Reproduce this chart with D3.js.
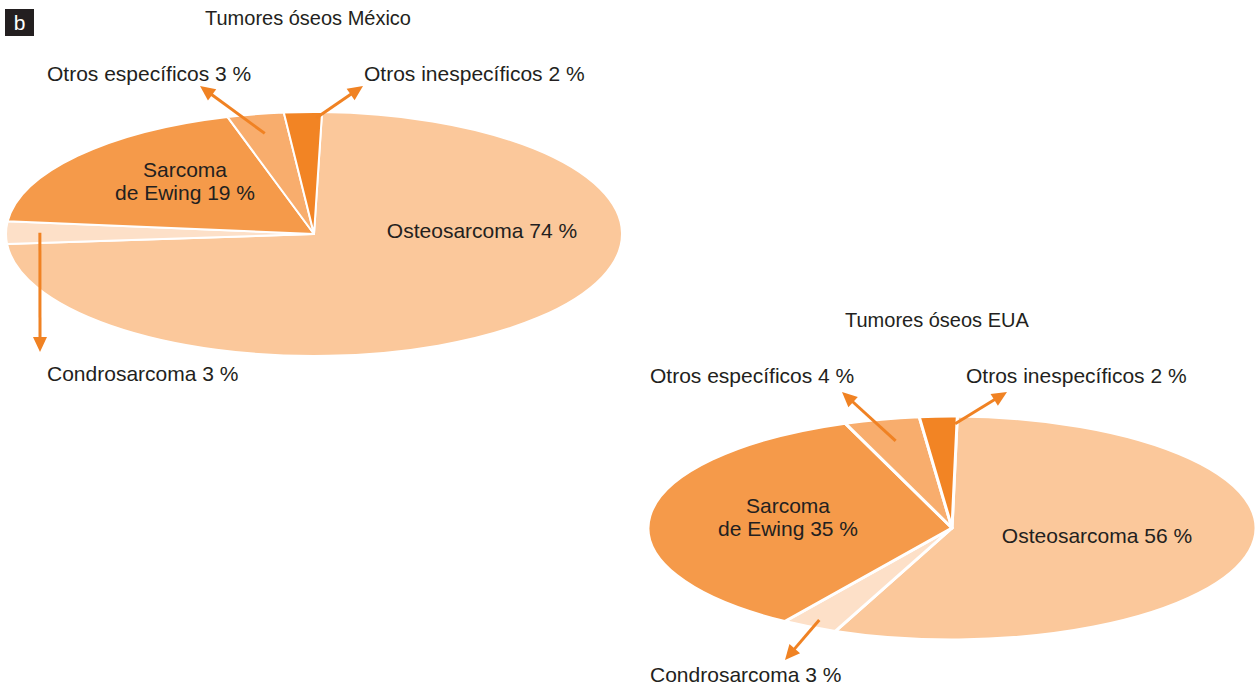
<!DOCTYPE html>
<meta charset="utf-8">
<head>
<script src="https://d3js.org/d3.v7.min.js"></script>
<style>
body { margin: 0; background: #fff; }
text { font-family: "Liberation Sans", Arial, sans-serif; fill: #231f20; }
</style>
</head>
<body>
<div id="my_dataviz"></div>
<script>
// categories, clockwise from the top
var categories = ["Osteosarcoma", "Condrosarcoma", "Sarcoma de Ewing", "Otros específicos", "Otros inespecíficos"];
var mexicoValues = [74, 3, 19, 3, 2];
var euaValues = [56, 3, 35, 4, 2];
var titles = ["Tumores óseos México", "Tumores óseos EUA"];

var sliceColors = ["#fbc89b", "#fde0c8", "#f59a4a", "#f8ad6d", "#f28424"];
var arrowColor = "#f08223";

var width = 1257, height = 690;

var svg = d3.select("#my_dataviz")
  .append("svg")
    .attr("width", width)
    .attr("height", height);

// panel letter
svg.append("rect").attr("x", 5).attr("y", 9).attr("width", 29).attr("height", 27).attr("fill", "#231f20");
svg.append("text").attr("x", 19.5).attr("y", 29.5).attr("text-anchor", "middle")
  .style("fill", "#fff").style("font-size", "21px").text("b");

// layout for each pie (positions only)
var charts = [
  {
    values: mexicoValues, title: titles[0], titleX: 205, titleY: 25,
    cx: 314, cy: 234, rx: 308, ry: 122, sep: 2, offset: 1.5,
    inside: [
      {i: 0, x: 482, y: 238, lines: ["Osteosarcoma"]},
      {i: 2, x: 185, y: 177, lines: ["Sarcoma", "de Ewing"]}
    ],
    outside: [
      {i: 1, x: 47, y: 381, frac: 0.5, r: 0.89, tip: [40, 352]},
      {i: 3, x: 47, y: 81, frac: 0.5, r: 0.84, tip: [200, 86]},
      {i: 4, x: 364, y: 81, frac: 0.85, r: 0.95, tip: [363, 86]}
    ]
  },
  {
    values: euaValues, title: titles[1], titleX: 845, titleY: 327,
    cx: 952, cy: 528, rx: 304, ry: 112, sep: 3, offset: 1,
    inside: [
      {i: 0, x: 1097, y: 543, lines: ["Osteosarcoma"]},
      {i: 2, x: 788, y: 513, lines: ["Sarcoma", "de Ewing"]}
    ],
    outside: [
      {i: 1, x: 650, y: 682, frac: 0.5, r: 0.93, tip: [785, 660]},
      {i: 3, x: 650, y: 383, frac: 0.5, r: 0.8, tip: [842, 392]},
      {i: 4, x: 966, y: 383, frac: 0.95, r: 0.93, tip: [1007, 392]}
    ]
  }
];

charts.forEach(function(c) {
  var off = c.offset * Math.PI / 180;
  var pie = d3.pie().sort(null).startAngle(off).endAngle(off + 2 * Math.PI);
  var arcs = pie(c.values);
  var arc = d3.arc().innerRadius(0).outerRadius(c.ry);
  var sx = c.rx / c.ry;

  // point on the ellipse for an angle and radius fraction
  function pt(a, r) {
    return [c.cx + r * c.rx * Math.sin(a), c.cy - r * c.ry * Math.cos(a)];
  }

  svg.append("text").attr("x", c.titleX).attr("y", c.titleY)
    .style("font-size", "20px").text(c.title);

  var g = svg.append("g")
    .attr("transform", "translate(" + c.cx + "," + c.cy + ") scale(" + sx + ",1)");
  g.selectAll("path")
    .data(arcs)
    .enter()
    .append("path")
      .attr("d", arc)
      .attr("fill", function(d, i) { return sliceColors[i]; })
      .attr("stroke", "#fff")
      .attr("stroke-width", c.sep)
      .attr("stroke-linejoin", "round")
      .attr("vector-effect", "non-scaling-stroke");

  c.inside.forEach(function(l) {
    var t = svg.append("text").attr("text-anchor", "middle").style("font-size", "21px");
    l.lines.forEach(function(s, k) {
      var str = s;
      if (k === l.lines.length - 1) str += " " + c.values[l.i] + " %";
      t.append("tspan").attr("x", l.x).attr("y", l.y + k * 23).text(str);
    });
  });

  c.outside.forEach(function(l) {
    var d = arcs[l.i];
    var a = d.startAngle + (d.endAngle - d.startAngle) * l.frac;
    var s = pt(a, l.r);
    var tip = l.tip;
    var dx = tip[0] - s[0], dy = tip[1] - s[1];
    var len = Math.sqrt(dx * dx + dy * dy);
    var ux = dx / len, uy = dy / len;
    var hl = 15, hw = 7;
    var base = [tip[0] - ux * hl, tip[1] - uy * hl];
    svg.append("line")
      .attr("x1", s[0]).attr("y1", s[1])
      .attr("x2", base[0] + ux * 2).attr("y2", base[1] + uy * 2)
      .attr("stroke", arrowColor).attr("stroke-width", 3);
    svg.append("path")
      .attr("d", "M" + tip[0] + "," + tip[1] +
        "L" + (base[0] - uy * hw) + "," + (base[1] + ux * hw) +
        "L" + (base[0] + uy * hw) + "," + (base[1] - ux * hw) + "Z")
      .attr("fill", arrowColor);

    svg.append("text").attr("x", l.x).attr("y", l.y)
      .style("font-size", "21px")
      .text(categories[l.i] + " " + c.values[l.i] + " %");
  });
});
</script>
</body>
</html>
